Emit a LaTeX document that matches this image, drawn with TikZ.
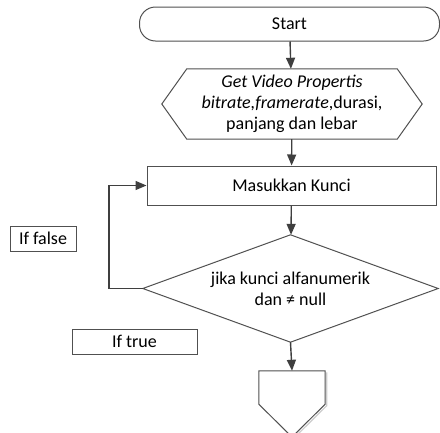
\documentclass[tikz,border=0pt]{standalone}
\usepackage{fontspec}
\setmainfont{Carlito}
\usetikzlibrary{arrows.meta}
\definecolor{edge}{HTML}{505050}
\definecolor{flow}{HTML}{3F3F3F}
\tikzset{
  box/.style={draw=edge, line width=1pt, inner sep=0pt, font=\fontsize{18}{21}\selectfont, align=center},
  ghost/.style={inner sep=0pt, font=\fontsize{18}{21}\selectfont, align=center},
  outline/.style={draw=edge, line width=1pt, line join=miter},
  flowline/.style={draw=flow, line width=1.4pt, -{Triangle[length=11pt,width=9pt]}},
}
\begin{document}
\begin{tikzpicture}[x=1pt,y=-1pt]
\useasboundingbox (0,0) rectangle (440,432);

% terminal
\node[box, rounded corners=16pt, minimum width=300pt, minimum height=34pt] (start) at (289.5,24) {Start};

% input / preparation hexagon
\node[ghost, minimum width=260pt, minimum height=70pt] (get) at (292,104)
  {\itshape Get Video Propertis\\ \itshape bitrate,framerate\upshape,durasi,\\ panjang dan lebar};
\draw[outline] (get.west) -- ([xshift=25pt]get.north west) -- ([xshift=-25pt]get.north east)
  -- (get.east) -- ([xshift=-25pt]get.south east) -- ([xshift=25pt]get.south west) -- cycle;

% process
\node[box, minimum width=289pt, minimum height=39pt] (key) at (291.5,185.5) {Masukkan Kunci};

% decision
\node[ghost, minimum width=295pt, minimum height=107pt] (check) at (290.5,288.5)
  {jika kunci alfanumerik\\ dan ≠ null};
\draw[outline] (check.north) -- (check.east) -- (check.south) -- (check.west) -- cycle;

% off-page connector
\node[minimum width=66pt, minimum height=33pt, inner sep=0pt] (next) at (292,387.5) {};
\coordinate (tip) at (292,437);
\draw[white!80!black, line width=1.2pt] ([shift={(1.5,1.5)}]next.north east) -- ([shift={(1.5,1.5)}]next.south east) -- ([shift={(1.5,1.5)}]tip);
\draw[outline, fill=white] (next.north west) -- (next.north east) -- (next.south east) -- (tip) -- (next.south west) -- cycle;

% labels
\node[box, minimum width=66pt, minimum height=25pt] (no) at (43,238.5) {If false};
\node[box, minimum width=125pt, minimum height=25pt] (yes) at (134.5,341.5) {If true};

% connectors
\draw[flowline] (start) -- (get);
\draw[flowline] (get) -- (key);
\draw[flowline] (key) -- (check);
\draw[flowline] (check.south) -- (next.north);
\draw[flowline] (check.west) -- ++(-34,0) |- (key.west);
\end{tikzpicture}
\end{document}
